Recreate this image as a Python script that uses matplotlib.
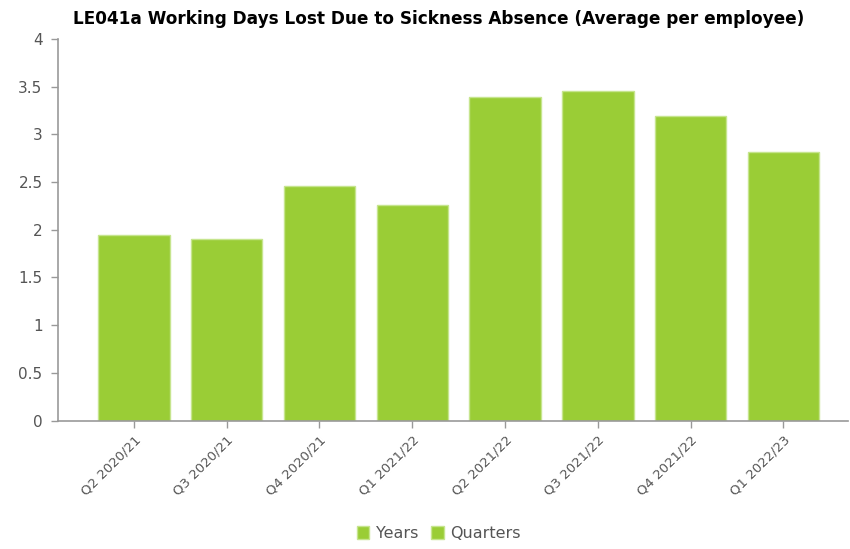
"""LE041a working days lost chart."""
import matplotlib.pyplot as plt
from matplotlib.patches import Patch

QUARTERS = ["Q2 2020/21", "Q3 2020/21", "Q4 2020/21", "Q1 2021/22",
            "Q2 2021/22", "Q3 2021/22", "Q4 2021/22", "Q1 2022/23"]
DAYS_LOST = [1.95, 1.90, 2.46, 2.26, 3.39, 3.45, 3.19, 2.82]
SERIES = ["Years", "Quarters"]
Y_TICKS = [0, 0.5, 1, 1.5, 2, 2.5, 3, 3.5, 4]
Y_TICK_LABELS = ["0", "0.5", "1", "1.5", "2", "2.5", "3", "3.5", "4"]

GREEN = "#9ACD36"
EDGE = "#C6E58E"
AXIS = "#999999"
TEXT = "#555555"

plt.rcParams["font.family"] = ["DejaVu Sans"]

fig = plt.figure(figsize=(8.5, 5.49), dpi=100)
ax = fig.add_axes([0.068, 0.234, 0.93, 0.695])

x = list(range(len(QUARTERS)))
ax.bar(x, DAYS_LOST, width=0.77, color=GREEN, edgecolor=EDGE, linewidth=1)

ax.set_xlim(-0.82, 7.7)
ax.set_ylim(0, 4)
ax.set_yticks(Y_TICKS)
ax.set_yticklabels(Y_TICK_LABELS)
ax.set_xticks(x)
ax.set_xticklabels(QUARTERS, rotation=45, ha="right", rotation_mode="anchor")

for side in ("top", "right"):
    ax.spines[side].set_visible(False)
for side in ("left", "bottom"):
    ax.spines[side].set_color(AXIS)
    ax.spines[side].set_linewidth(1.2)
ax.tick_params(axis="both", colors=AXIS, length=5, width=1)
ax.tick_params(axis="y", labelsize=11, labelcolor=TEXT, pad=6)
ax.tick_params(axis="x", labelsize=9.5, labelcolor=TEXT, pad=4)

fig.text(0.516, 0.965, "LE041a Working Days Lost Due to Sickness Absence (Average per employee)",
         ha="center", va="center", fontsize=12.2, fontweight="bold", color="#000000")

handles = [Patch(facecolor=GREEN, edgecolor=EDGE, label=name) for name in SERIES]
fig.legend(handles=handles, loc="center", bbox_to_anchor=(0.516, 0.028), ncol=2, frameon=False,
           fontsize=11.5, handlelength=0.8, handleheight=0.8, handletextpad=0.4,
           columnspacing=0.8, labelcolor=TEXT)

fig.savefig("out.png", dpi=100)
